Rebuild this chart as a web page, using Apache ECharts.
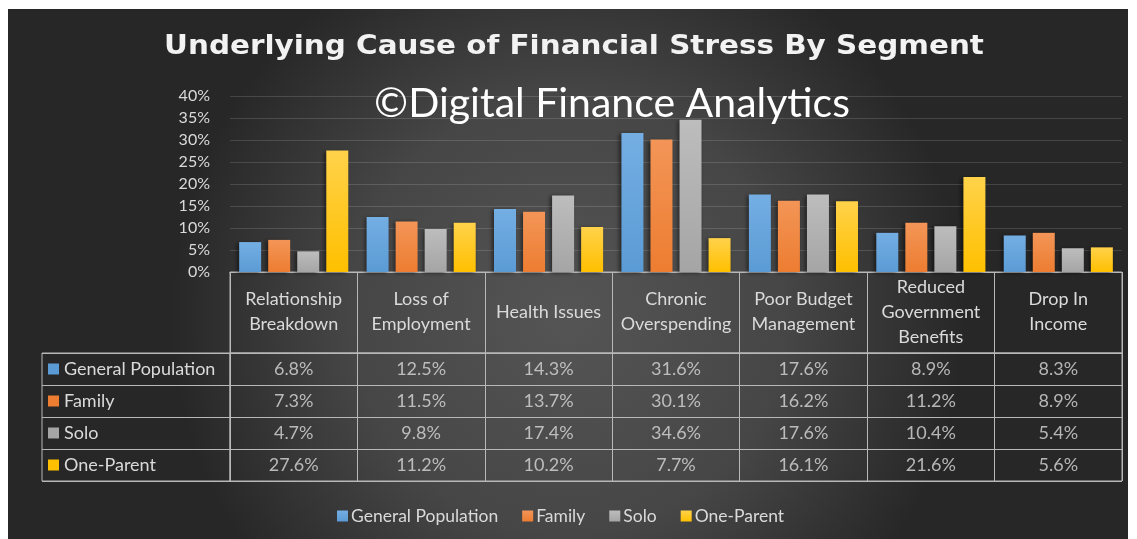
<!DOCTYPE html>
<html><head><meta charset="utf-8">
<script src="https://cdn.jsdelivr.net/npm/echarts@6/dist/echarts.min.js"></script>
<style>html,body{margin:0;padding:0;background:#fff;}#c{width:1137px;height:539px;}</style>
</head><body><div id="c"></div>
<script>
const categories = ['Relationship\nBreakdown','Loss of\nEmployment','Health Issues','Chronic\nOverspending','Poor Budget\nManagement','Reduced\nGovernment\nBenefits','Drop In\nIncome'];
const seriesNames = ['General Population','Family','Solo','One-Parent'];
const generalPopulation = [6.8,12.5,14.3,31.6,17.6,8.9,8.3];
const family = [7.3,11.5,13.7,30.1,16.2,11.2,8.9];
const solo = [4.7,9.8,17.4,34.6,17.6,10.4,5.4];
const oneParent = [27.6,11.2,10.2,7.7,16.1,21.6,5.6];
const titleText = 'Underlying Cause of Financial Stress By Segment';
const watermarkText = '©Digital Finance Analytics';

const values = [generalPopulation, family, solo, oneParent];
const colors = ['#5b9bd5','#ed7d31','#a5a5a5','#ffc000'];
const tops = ['#74aee3','#f39557','#bdbdbd','#ffd24a'];
const lineColor = '#b8b8b8';
const textColor = '#dadada';
const FONT = 'Lato';

const chart = echarts.init(document.getElementById('c'));

const cellData = [];
values.forEach((arr, s) => arr.forEach((v, c) => cellData.push([c, s, v])));

const rich = { t: { color: textColor, fontSize: 18, fontFamily: FONT, padding: [0,0,0,5] } };
colors.forEach((c, i) => { rich['s' + i] = { backgroundColor: c, width: 11, height: 11 }; });

const option = {
  animation: false,
  textStyle: { fontFamily: FONT },
  graphic: [
    { type: 'rect', z: -100, silent: true, shape: { x: 8, y: 9, width: 1120, height: 530 },
      style: { fill: new echarts.graphic.RadialGradient(0.5, 0.58, 0.75, [
        { offset: 0, color: '#555555' }, { offset: 0.55, color: '#464646' }, { offset: 1, color: '#272727' }]) } },
    { type: 'text', z: 100, silent: true, x: 574, y: 47, scaleX: 1.09,
      style: { text: titleText, align: 'center', verticalAlign: 'middle', font: 'bold 27px "DejaVu Sans"', fill: '#f2f2f2',
        shadowColor: 'rgba(0,0,0,0.85)', shadowBlur: 4, shadowOffsetX: 1, shadowOffsetY: 2 } },
    { type: 'text', z: 100, silent: true, x: 612, y: 104,
      style: { text: watermarkText, align: 'center', verticalAlign: 'middle', font: '41px Lato', fill: '#ffffff' } }
  ],
  legend: {
    data: seriesNames, left: 332, top: 502, icon: 'rect', itemWidth: 11, itemHeight: 11, itemGap: 24,
    textStyle: { color: textColor, fontSize: 17.5, fontFamily: FONT, padding: [0, 0, 0, -2] }
  },
  grid: [
    { left: 230, right: 15, top: 96, height: 176 },
    { left: 230, right: 15, top: 272, height: 81, show: true, borderColor: lineColor, borderWidth: 1 },
    { left: 42, width: 188, top: 353, height: 128, show: true, borderColor: lineColor, borderWidth: 1 },
    { left: 230, right: 15, top: 353, height: 128, show: true, borderColor: lineColor, borderWidth: 1 }
  ],
  xAxis: [
    { type: 'category', gridIndex: 0, data: categories,
      axisLine: { show: true, lineStyle: { color: lineColor } }, axisTick: { show: false },
      axisLabel: { interval: 0, margin: 40, verticalAlign: 'middle', color: textColor, fontSize: 18, lineHeight: 25, fontFamily: FONT } },
    { type: 'category', gridIndex: 1, data: categories, axisLine: { show: false }, axisTick: { show: false }, axisLabel: { show: false },
      splitLine: { show: true, interval: 0, lineStyle: { color: lineColor } } },
    { type: 'category', gridIndex: 2, data: [''], axisLine: { show: false }, axisTick: { show: false }, axisLabel: { show: false } },
    { type: 'category', gridIndex: 3, data: categories, axisLine: { show: false }, axisTick: { show: false }, axisLabel: { show: false },
      splitLine: { show: true, interval: 0, lineStyle: { color: lineColor } } }
  ],
  yAxis: [
    { type: 'value', gridIndex: 0, min: 0, max: 40, interval: 5,
      axisLabel: { formatter: '{value}%', color: textColor, fontSize: 16, margin: 20, fontFamily: FONT },
      axisLine: { show: false }, axisTick: { show: false },
      splitLine: { lineStyle: { color: 'rgba(255,255,255,0.14)' } } },
    { type: 'value', gridIndex: 1, show: false },
    { type: 'category', gridIndex: 2, data: seriesNames, inverse: true,
      axisLine: { show: false }, axisTick: { show: false },
      axisLabel: { inside: true, margin: 6, formatter: (v, i) => '{s' + i + '|}{t|' + v + '}', rich: rich },
      splitLine: { show: true, interval: 0, lineStyle: { color: lineColor } } },
    { type: 'category', gridIndex: 3, data: seriesNames, inverse: true,
      axisLine: { show: false }, axisTick: { show: false }, axisLabel: { show: false },
      splitLine: { show: true, interval: 0, lineStyle: { color: lineColor } } }
  ],
  series: seriesNames.map((name, i) => ({
    name: name, type: 'bar', xAxisIndex: 0, yAxisIndex: 0, data: values[i],
    barWidth: 22, barGap: '32%',
    itemStyle: { color: new echarts.graphic.LinearGradient(0, 0, 0, 1, [{ offset: 0, color: tops[i] }, { offset: 1, color: colors[i] }]),
      shadowColor: 'rgba(0,0,0,0.5)', shadowBlur: 4, shadowOffsetX: -2, shadowOffsetY: 1 }
  })).concat([{
    name: 'table', type: 'scatter', xAxisIndex: 3, yAxisIndex: 3, data: cellData, symbolSize: 1, silent: true,
    itemStyle: { color: 'rgba(0,0,0,0)' },
    label: { show: true, position: 'inside', color: textColor, fontSize: 18, fontFamily: FONT,
      formatter: p => p.value[2].toFixed(1) + '%' }
  }])
};
chart.setOption(option);
</script></body></html>
